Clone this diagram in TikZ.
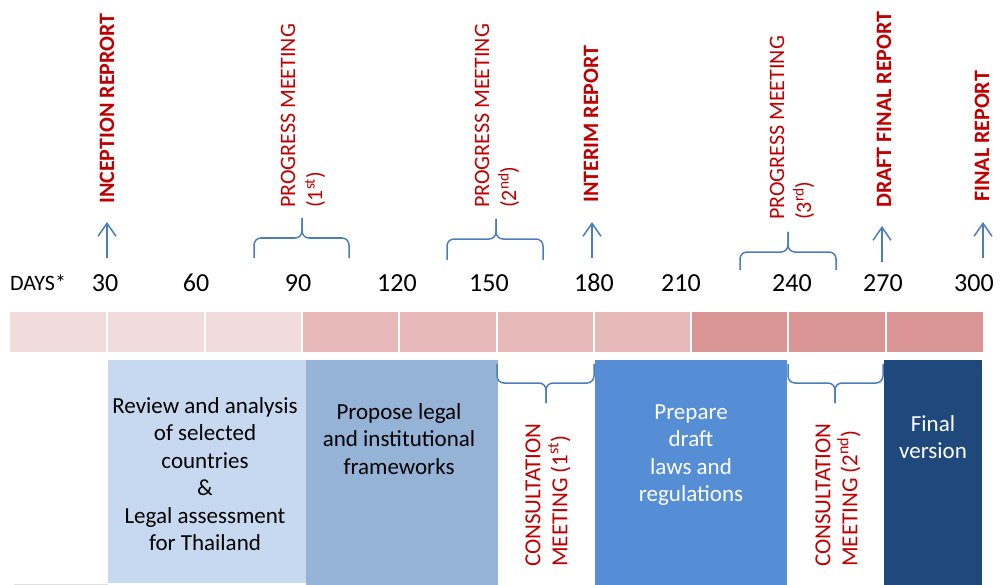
\documentclass[tikz,border=0pt]{standalone}
\usepackage{fontspec}
\setmainfont{Carlito}
\usetikzlibrary{arrows.meta}
\definecolor{redtxt}{HTML}{C00000}
\definecolor{bluel}{HTML}{4A7EBB}
\definecolor{barA}{HTML}{F2DCDB}
\definecolor{barB}{HTML}{E6B9B8}
\definecolor{barC}{HTML}{D99694}
\definecolor{boxA}{HTML}{C6D9F1}
\definecolor{boxB}{HTML}{95B3D7}
\definecolor{boxC}{HTML}{558ED5}
\definecolor{boxD}{HTML}{1F497D}
\begin{document}
\begin{tikzpicture}[x=1pt,y=-1pt,
  daytick/.style={font=\fontsize{26}{30}\selectfont, inner sep=0},
  bigred/.style={font=\bfseries\fontsize{22}{26}\selectfont, text=redtxt, rotate=90, anchor=west, inner sep=0},
  meetred/.style={font=\fontsize{22}{27}\selectfont, text=redtxt, rotate=90, anchor=west, inner sep=0, align=left},
  ptr/.style={draw=bluel, line width=1.5pt, -{Straight Barb[length=13pt,width=18pt]}},
  bracepath/.style={draw=bluel, line width=1.5pt, rounded corners=7pt},
  phase/.style={inner sep=0, outer sep=0, anchor=north west},
  phasetxt/.style={font=\fontsize{23}{27.5}\selectfont, align=center, inner sep=0}
]
\useasboundingbox (0,0) rectangle (1000,585);
\fill[white] (0,0) rectangle (1000,585);

% ---- day labels ----
\node[daytick, font=\fontsize{22}{26}\selectfont] (days) at (38,283) {DAYS*};
\foreach \d/\x in {30/105,60/196,90/298,120/397,150/489,180/594,210/681,240/792,270/883,300/974}
  \node[daytick] (d\d) at (\x,283) {\d};

% ---- timeline bar ----
\foreach \i/\c in {0/barA,1/barA,2/barA,3/barB,4/barB,5/barB,6/barB,7/barC,8/barC,9/barC}{
  \fill[\c] ({10+97.3*\i},312) rectangle ({10+97.3*(\i+1)},352);
}
\foreach \i in {1,...,9}
  \draw[white, line width=2pt] ({10+97.3*\i},310) -- ({10+97.3*\i},354);

% ---- phase boxes ----
\node[phase, fill=boxA, minimum width=198pt, minimum height=223pt] (pA) at (108,360) {};
\node[phase, fill=boxB, minimum width=192pt, minimum height=225pt] (pB) at (306,360) {};
\node[phase, fill=boxC, minimum width=192pt, minimum height=225pt] (pC) at (595,360) {};
\node[phase, fill=boxD, minimum width=98pt, minimum height=225pt] (pD) at (884,360) {};
\draw[black!12, line width=0.8pt] (14,584) -- (108,584);

\node[phasetxt] (tA) at (205,474) {Review and analysis\\of selected\\countries\\\&\\Legal assessment\\for Thailand};
\node[phasetxt] (tB) at (399,439) {Propose legal\\and institutional\\frameworks};
\node[phasetxt, text=white] (tC) at (691,455) {Prepare\\draft\\laws and\\regulations};
\node[phasetxt, text=white] (tD) at (933,437) {Final\\version};

% ---- top labels ----
\node[bigred] (inc) at (107,204) {INCEPTION REPRORT};
\node[bigred] (int) at (591,203) {INTERIM REPORT};
\node[bigred] (dfr) at (884,208) {DRAFT FINAL REPORT};
\node[bigred] (fr) at (982,202) {FINAL REPORT};
\node[meetred] (pm1) at (303,208) {PROGRESS MEETING\\(1\textsuperscript{st})};
\node[meetred] (pm2) at (497,208) {PROGRESS MEETING\\(2\textsuperscript{nd})};
\node[meetred] (pm3) at (792,220) {PROGRESS MEETING\\(3\textsuperscript{rd})};

% ---- arrows ----
\coordinate (a1s) at (107,258); \coordinate (a1e) at (107,222);
\coordinate (a2s) at (592,258); \coordinate (a2e) at (592,222);
\coordinate (a3s) at (882,262); \coordinate (a3e) at (882,226);
\coordinate (a4s) at (983,258); \coordinate (a4e) at (983,222);
\draw[ptr] (a1s) -- (a1e);
\draw[ptr] (a2s) -- (a2e);
\draw[ptr] (a3s) -- (a3e);
\draw[ptr] (a4s) -- (a4e);

% ---- upper braces ----
\foreach \xa/\xb/\xt/\yb/\yh/\yt in {254/349/302/258/238/218, 447/543/496/260/239/219, 740/836/788/270/252/232}{
  \draw[bracepath] (\xa,\yb) -- (\xa,\yh) -- (\xt,\yh) -- (\xt,\yt);
  \draw[bracepath] (\xb,\yb) -- (\xb,\yh) -- (\xt,\yh) -- (\xt,\yt);
}
% ---- lower braces ----
\foreach \xa/\xb/\xt in {497/594/546, 788/883/835}{
  \draw[bracepath] (\xa,364) -- (\xa,383) -- (\xt,383) -- (\xt,403);
  \draw[bracepath] (\xb,364) -- (\xb,383) -- (\xt,383) -- (\xt,403);
}

% ---- consultation labels ----
\node[meetred, font=\fontsize{23}{27}\selectfont] (cm1) at (548,567) {CONSULTATION\\MEETING (1\textsuperscript{st})};
\node[meetred, font=\fontsize{23}{27}\selectfont] (cm2) at (838,567) {CONSULTATION\\MEETING (2\textsuperscript{nd})};
\end{tikzpicture}
\end{document}
